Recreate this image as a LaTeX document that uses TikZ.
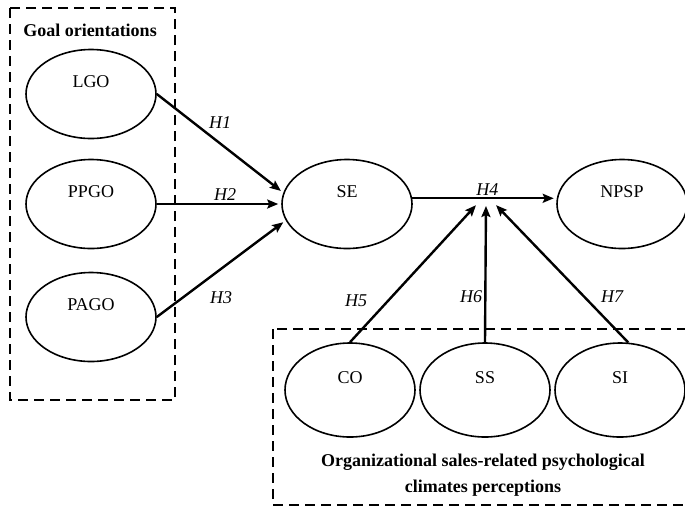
\documentclass[tikz,border=0pt]{standalone}
\usepackage{fontspec}
\setmainfont{Liberation Serif}
\usetikzlibrary{arrows.meta, positioning, shapes.geometric}

\newcommand{\diagfont}{\fontsize{18}{26}\selectfont}

\tikzset{
  latent/.style={ellipse, draw, line width=1.6pt, minimum width=130pt, minimum height=89pt,
    text height=12pt, text depth=25pt, inner sep=1pt},
  climate/.style={minimum height=94pt},
  hyp/.style={->, line width=2.4pt, shorten >=3pt},
  hlabel/.style={font=\diagfont\itshape, inner sep=2pt},
  groupbox/.style={draw, dash pattern=on 10pt off 6pt, line width=2.6pt},
  grouptitle/.style={font=\diagfont\bfseries, align=center}
}

\begin{document}
\begin{tikzpicture}[x=1pt,y=-1pt,node distance=135pt,on grid,>={Stealth[length=11pt,width=9pt,inset=2pt]},font=\diagfont]

	\useasboundingbox (0,0) rectangle (685,507);

	% goal orientations
	\node (lgo) [latent] at (91,94) {LGO};
	\node (ppgo) [latent, below=110pt of lgo] {PPGO};
	\node (pago) [latent, below=113pt of ppgo] {PAGO};

	\node (se) [latent] at (347,204) {SE};
	\node (npsp) [latent, right=275pt of se] {NPSP};

	% climate perceptions
	\node (co) [latent, climate] at (350,390) {CO};
	\node (ss) [latent, climate, right=of co] {SS};
	\node (si) [latent, climate, right=of ss] {SI};

	\coordinate (hub) at (486,203);

	\draw [groupbox] (10,8) rectangle (175,400);
	\draw [groupbox] (273,329) rectangle (720,505);
	\node (goaltitle) [grouptitle] at (90,30) {Goal orientations};
	\node (climtitle) [grouptitle] at (483,475) {Organizational sales-related psychological\\climates perceptions};

	\path [hyp]
	(lgo.east) edge node [hlabel, pos=0.5, above=12pt] {H1} (se.170)
	(ppgo) edge node [hlabel, pos=0.55, above] {H2} (se)
	(pago.east) edge node [hlabel, pos=0.5, below=20pt] {H3} (se.195)
	(se.5) edge node [hlabel, pos=0.52, above] {H4} (npsp.175)
	(co.north) edge node [hlabel, pos=0.3, left=18pt] {H5} ([xshift=-8pt]hub)
	(ss.north) edge node [hlabel, pos=0.33, left] {H6} (hub)
	(si.80) edge node [hlabel, pos=0.33, right=14pt] {H7} ([xshift=8pt]hub);

\end{tikzpicture}
\end{document}
